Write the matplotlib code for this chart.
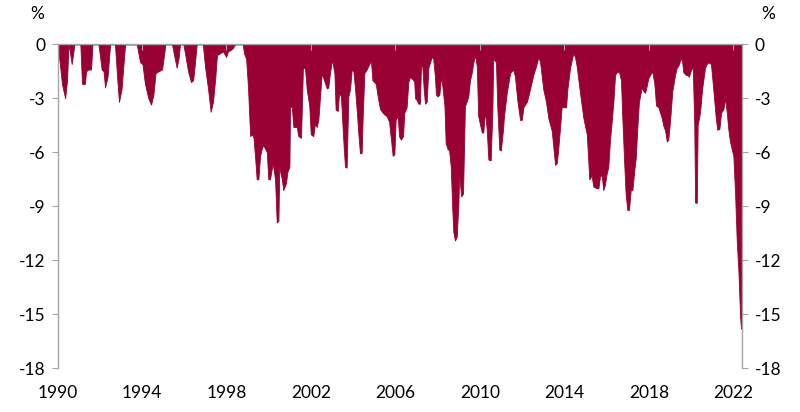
import numpy as np
import matplotlib
matplotlib.use("Agg")
import matplotlib.pyplot as plt

plt.rcParams['font.family'] = ['Lato', 'DejaVu Sans']

# drawdown series (decimal year, %)
years = [
    1990.00, 1990.12, 1990.21, 1990.36, 1990.45, 1990.52, 1990.57, 1990.67, 1990.80, 1991.08,
    1991.16, 1991.30, 1991.35, 1991.46, 1991.59, 1991.65, 1991.94, 1992.09, 1992.18, 1992.25,
    1992.37, 1992.49, 1992.72, 1992.82, 1992.91, 1993.03, 1993.20, 1993.75, 1993.91, 1994.02,
    1994.14, 1994.30, 1994.43, 1994.54, 1994.64, 1994.78, 1994.95, 1995.11, 1995.42, 1995.52,
    1995.64, 1995.73, 1995.80, 1995.96, 1996.08, 1996.18, 1996.32, 1996.42, 1996.51, 1996.59,
    1996.88, 1996.98, 1997.13, 1997.25, 1997.36, 1997.46, 1997.55, 1997.69, 1997.84, 1997.98,
    1998.07, 1998.22, 1998.31, 1998.40, 1998.77, 1998.83, 1998.93, 1999.02, 1999.12, 1999.21,
    1999.28, 1999.35, 1999.43, 1999.51, 1999.59, 1999.67, 1999.74, 1999.83, 1999.91, 1999.98,
    2000.06, 2000.19, 2000.30, 2000.38, 2000.46, 2000.50, 2000.62, 2000.69, 2000.82, 2000.88,
    2000.98, 2001.01, 2001.09, 2001.17, 2001.33, 2001.40, 2001.53, 2001.62, 2001.72, 2001.80,
    2001.92, 2001.99, 2002.11, 2002.19, 2002.27, 2002.35, 2002.51, 2002.62, 2002.75, 2002.82,
    2002.90, 2003.00, 2003.11, 2003.17, 2003.27, 2003.33, 2003.42, 2003.53, 2003.61, 2003.69,
    2003.77, 2003.85, 2003.93, 2004.01, 2004.09, 2004.17, 2004.24, 2004.32, 2004.40, 2004.45,
    2004.53, 2004.64, 2004.72, 2004.80, 2004.84, 2004.91, 2005.00, 2005.07, 2005.16, 2005.27,
    2005.43, 2005.59, 2005.70, 2005.79, 2005.87, 2005.95, 2006.01, 2006.11, 2006.17, 2006.26,
    2006.36, 2006.42, 2006.53, 2006.61, 2006.69, 2006.77, 2006.85, 2006.89, 2006.93, 2007.01,
    2007.08, 2007.16, 2007.21, 2007.27, 2007.34, 2007.40, 2007.48, 2007.56, 2007.64, 2007.72,
    2007.79, 2007.87, 2007.92, 2008.00, 2008.08, 2008.16, 2008.22, 2008.32, 2008.38, 2008.48,
    2008.54, 2008.62, 2008.69, 2008.74, 2008.82, 2008.90, 2008.98, 2009.02, 2009.11, 2009.20,
    2009.29, 2009.45, 2009.53, 2009.61, 2009.69, 2009.77, 2009.85, 2009.92, 2010.09, 2010.16,
    2010.24, 2010.32, 2010.40, 2010.51, 2010.59, 2010.63, 2010.76, 2010.82, 2010.92, 2010.99,
    2011.08, 2011.14, 2011.27, 2011.43, 2011.58, 2011.66, 2011.77, 2011.90, 2011.98, 2012.06,
    2012.22, 2012.29, 2012.37, 2012.53, 2012.66, 2012.77, 2012.85, 2013.00, 2013.13, 2013.24,
    2013.40, 2013.56, 2013.64, 2013.71, 2013.79, 2013.87, 2014.08, 2014.14, 2014.27, 2014.42,
    2014.50, 2014.58, 2014.74, 2014.90, 2015.06, 2015.18, 2015.29, 2015.37, 2015.53, 2015.61,
    2015.69, 2015.77, 2015.84, 2015.92, 2016.00, 2016.08, 2016.16, 2016.24, 2016.32, 2016.40,
    2016.48, 2016.59, 2016.68, 2016.74, 2016.84, 2016.90, 2016.98, 2017.06, 2017.14, 2017.22,
    2017.31, 2017.38, 2017.47, 2017.53, 2017.66, 2017.74, 2017.82, 2017.90, 2017.97, 2018.06,
    2018.16, 2018.26, 2018.34, 2018.45, 2018.53, 2018.61, 2018.68, 2018.77, 2018.85, 2018.92,
    2019.00, 2019.11, 2019.24, 2019.32, 2019.39, 2019.48, 2019.56, 2019.63, 2019.75, 2019.82,
    2019.90, 2020.00, 2020.08, 2020.15, 2020.19, 2020.27, 2020.31, 2020.42, 2020.53, 2020.66,
    2020.74, 2020.82, 2020.94, 2021.05, 2021.17, 2021.24, 2021.34, 2021.42, 2021.53, 2021.61,
    2021.69, 2021.76, 2021.84, 2021.92, 2022.00, 2022.08, 2022.16, 2022.24, 2022.32, 2022.36,
    2022.41,
]
drawdown = [
    0.0, -1.2, -2.2, -3.0, -2.0, 0.0, -0.3, -1.1, 0.0, 0.0,
    -2.2, -2.2, -1.5, -1.4, -1.4, 0.0, 0.0, -1.4, -1.5, -2.4,
    -1.8, 0.0, 0.0, -1.8, -3.2, -2.5, 0.0, 0.0, -1.0, -1.1,
    -2.2, -3.0, -3.35, -2.8, -1.6, -1.5, -1.4, 0.0, 0.0, -0.6,
    -1.3, -0.8, 0.0, 0.0, -0.8, -1.5, -2.1, -2.0, -1.0, 0.0,
    0.0, -1.2, -2.5, -3.75, -3.2, -2.0, -0.6, -0.5, -0.4, -0.7,
    -0.4, -0.3, -0.2, 0.0, 0.0, -0.5, -0.8, -2.4, -5.1, -5.0,
    -5.2, -6.2, -7.5, -7.5, -6.2, -5.8, -5.6, -5.8, -6.0, -7.5,
    -7.5, -6.6, -7.5, -9.9, -9.8, -6.8, -7.5, -8.1, -7.7, -7.1,
    -6.8, -3.5, -3.45, -4.6, -4.6, -5.1, -5.2, -1.3, -1.35, -2.5,
    -3.4, -5.0, -5.1, -4.4, -4.6, -4.2, -1.6, -2.0, -2.45, -2.4,
    -1.6, -0.85, -1.6, -3.65, -3.7, -2.7, -2.9, -5.3, -6.8, -6.85,
    -2.9, -2.5, -1.4, -1.5, -2.5, -3.7, -4.9, -6.05, -6.05, -4.0,
    -1.6, -1.4, -1.2, -1.0, -0.9, -2.0, -2.1, -2.2, -2.9, -3.6,
    -3.85, -4.0, -4.3, -5.3, -6.2, -6.1, -4.2, -4.0, -5.1, -5.3,
    -5.1, -3.8, -3.5, -2.1, -1.8, -1.9, -2.0, -2.1, -3.0, -3.1,
    -3.3, -3.3, -1.2, -1.2, -2.5, -3.3, -3.2, -1.3, -1.0, -0.7,
    -0.8, -1.8, -2.8, -2.9, -2.8, -1.8, -2.3, -3.4, -5.5, -5.85,
    -5.85, -6.8, -9.1, -10.4, -10.9, -10.7, -8.9, -7.2, -8.45, -8.3,
    -3.45, -2.9, -2.0, -1.6, -1.0, -0.6, -1.2, -4.0, -4.9, -4.9,
    -3.7, -4.7, -6.4, -6.45, -3.7, -0.8, -1.0, -3.4, -5.85, -5.9,
    -4.9, -4.0, -2.7, -1.6, -1.4, -1.8, -3.1, -4.2, -4.2, -3.5,
    -3.2, -2.9, -2.5, -1.7, -1.2, -0.7, -1.0, -2.5, -3.2, -4.1,
    -4.8, -6.7, -6.6, -5.8, -4.7, -3.5, -3.5, -2.5, -1.3, -0.5,
    -0.7, -1.2, -2.7, -4.1, -5.0, -7.5, -7.3, -7.9, -8.0, -8.0,
    -7.3, -7.3, -8.1, -7.8, -7.2, -6.8, -5.3, -4.3, -3.2, -1.7,
    -1.55, -1.55, -2.0, -4.0, -6.8, -8.3, -9.2, -9.2, -8.1, -8.1,
    -7.0, -6.3, -4.3, -3.2, -2.4, -2.6, -2.7, -2.3, -1.9, -1.7,
    -1.5, -2.2, -3.4, -3.5, -3.8, -4.1, -4.5, -4.8, -5.4, -5.3,
    -4.3, -2.6, -1.7, -1.3, -1.2, -0.9, -0.8, -1.55, -1.7, -1.7,
    -1.8, -1.4, -1.3, -4.5, -8.8, -8.8, -4.5, -3.8, -2.4, -1.3,
    -1.1, -1.0, -1.1, -2.5, -4.1, -4.75, -4.7, -3.8, -3.6, -3.0,
    -3.8, -4.7, -5.4, -5.8, -6.2, -8.2, -10.9, -12.6, -15.1, -15.8,
    -15.7,
]
x_ticks = [1990, 1994, 1998, 2002, 2006, 2010, 2014, 2018, 2022]
y_ticks = [0, -3, -6, -9, -12, -15, -18]

red = '#990033'
grey = '#a6a6a6'

fig = plt.figure(figsize=(8, 4.12), dpi=100)
ax = fig.add_axes([0.0719, 0.106, 0.8556, 0.7865])

ax.fill_between(years, drawdown, 0, color=red, linewidth=0.6, edgecolor=red)

ax.set_xlim(1990, years[-1])
ax.set_ylim(-18, 0)

ax.set_xticks(x_ticks)
ax.set_xticklabels([str(y) for y in x_ticks])
ax.set_yticks(y_ticks)
ax.set_yticklabels([str(v) for v in y_ticks])

for side in ['left', 'right', 'top']:
    ax.spines[side].set_color(grey)
    ax.spines[side].set_linewidth(1)
ax.spines['bottom'].set_visible(False)

ax.tick_params(axis='x', top=True, bottom=False, labeltop=False, labelbottom=True,
               direction='in', length=4, color=grey, pad=12, labelsize=12.5)
ax.tick_params(axis='y', left=True, right=True, labelleft=True, labelright=True,
               direction='out', length=4, color=grey, pad=5, labelsize=12.5)

fig.text(0.046, 0.965, '%', ha='center', va='center', fontsize=12.5)
fig.text(0.960, 0.965, '%', ha='center', va='center', fontsize=12.5)

fig.savefig('out.png', dpi=100)
